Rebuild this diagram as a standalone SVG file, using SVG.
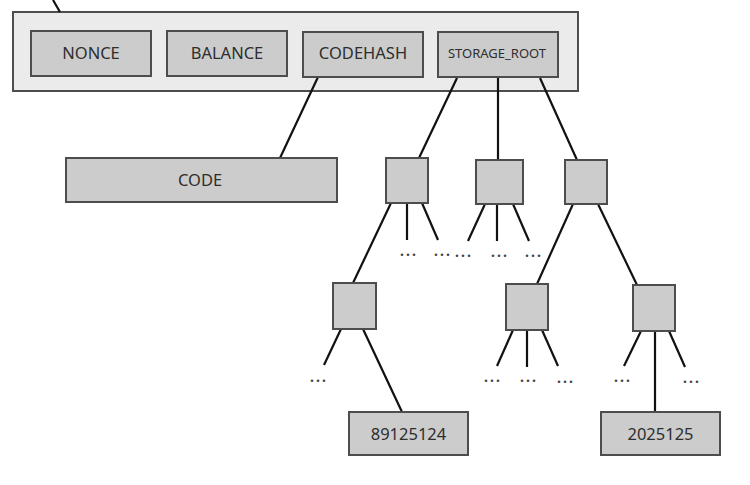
<svg xmlns="http://www.w3.org/2000/svg" width="750" height="485" viewBox="0 0 750 485">
<style>
.box{fill:#cccccc;stroke:#4d4d4d;stroke-width:2}
.outer{fill:#ebebeb;stroke:#4d4d4d;stroke-width:2}
.lbl{font-family:"Noto Sans","Open Sans",sans-serif;font-size:16.5px;fill:#2e2e2e;text-anchor:middle}
.small{font-size:13px}
.dots{font-family:"Noto Sans",sans-serif;font-size:14px;font-weight:bold;fill:#444444;text-anchor:middle;letter-spacing:2px}
#connectors line{stroke:#111111;stroke-width:2.2;stroke-linecap:butt}
</style>
<rect width="750" height="485" fill="#ffffff"/>
<g id="account">
<rect class="outer" x="13" y="12" width="565" height="79"/>
</g>
<g id="connectors">
<line x1="53" y1="0" x2="60" y2="12"/>
<line x1="318" y1="77" x2="280" y2="158"/>
<line x1="457" y1="78" x2="419" y2="158"/>
<line x1="498" y1="78" x2="498" y2="160"/>
<line x1="540" y1="78" x2="577" y2="160"/>
<line x1="391" y1="203" x2="353" y2="283"/>
<line x1="407" y1="203" x2="407" y2="240"/>
<line x1="422" y1="203" x2="438" y2="240"/>
<line x1="485" y1="204" x2="468" y2="241"/>
<line x1="497" y1="204" x2="497" y2="241"/>
<line x1="513" y1="204" x2="529" y2="241"/>
<line x1="573" y1="204" x2="537" y2="284"/>
<line x1="598" y1="204" x2="637" y2="285"/>
<line x1="341" y1="329" x2="324" y2="365"/>
<line x1="363" y1="329" x2="402" y2="412"/>
<line x1="513" y1="330" x2="497" y2="366"/>
<line x1="527" y1="330" x2="527" y2="367"/>
<line x1="542" y1="330" x2="558" y2="366"/>
<line x1="641" y1="331" x2="624" y2="366"/>
<line x1="655" y1="331" x2="655" y2="412"/>
<line x1="669" y1="331" x2="685" y2="367"/>
</g>
<g id="nonce"><rect class="box" x="31" y="31" width="120" height="45"/><text class="lbl" x="91" y="59">NONCE</text></g>
<g id="balance"><rect class="box" x="167" y="31" width="120" height="45"/><text class="lbl" x="227" y="59">BALANCE</text></g>
<g id="codehash"><rect class="box" x="303" y="32" width="120" height="45"/><text class="lbl" x="363" y="59">CODEHASH</text></g>
<g id="storage_root"><rect class="box" x="438" y="32" width="120" height="45"/><text class="lbl small" x="497" y="58">STORAGE_ROOT</text></g>
<g id="code"><rect class="box" x="66" y="158" width="271" height="44"/><text class="lbl" x="200" y="186">CODE</text></g>
<g id="n1"><rect class="box" x="386" y="158" width="42" height="45"/></g>
<g id="n2"><rect class="box" x="476" y="160" width="47" height="44"/></g>
<g id="n3"><rect class="box" x="565" y="160" width="42" height="44"/></g>
<g id="n4"><rect class="box" x="333" y="283" width="43" height="46"/></g>
<g id="n5"><rect class="box" x="506" y="284" width="42" height="46"/></g>
<g id="n6"><rect class="box" x="633" y="285" width="42" height="46"/></g>
<g id="leaf1"><rect class="box" x="349" y="412" width="119" height="43"/><text class="lbl" x="408.5" y="440">89125124</text></g>
<g id="leaf2"><rect class="box" x="601" y="412" width="119" height="43"/><text class="lbl" x="660.5" y="440">2025125</text></g>
<g id="ellipses">
<text class="dots" x="409" y="256">...</text>
<text class="dots" x="443" y="256">...</text>
<text class="dots" x="464" y="257">...</text>
<text class="dots" x="500" y="257">...</text>
<text class="dots" x="534" y="257">...</text>
<text class="dots" x="319" y="382">...</text>
<text class="dots" x="493" y="382">...</text>
<text class="dots" x="529" y="382">...</text>
<text class="dots" x="566" y="383">...</text>
<text class="dots" x="623" y="382">...</text>
<text class="dots" x="692" y="383">...</text>
</g>
</svg>
